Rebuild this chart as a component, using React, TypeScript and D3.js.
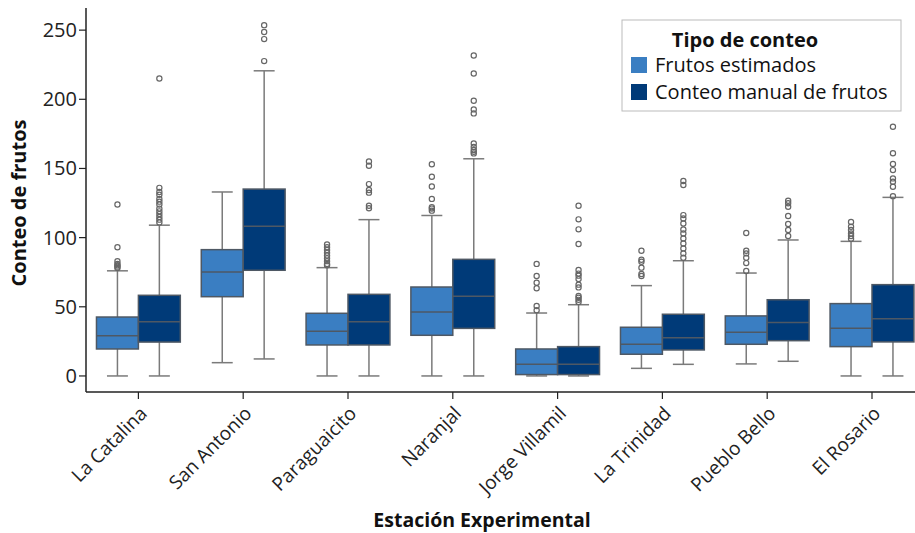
import React from "react";
import * as d3 from "d3";

const stations = ["La Catalina", "San Antonio", "Paraguaicito", "Naranjal", "Jorge Villamil", "La Trinidad", "Pueblo Bello", "El Rosario"];
const seriesNames = ["Frutos estimados", "Conteo manual de frutos"];
const seriesColors = ["#3a7ec2", "#003a78"];
const yTicks = [0, 50, 100, 150, 200, 250];

// Frutos estimados
const estQ1 = [19.5, 57.3, 22.4, 29.4, 1, 15.7, 22.9, 21.2];
const estMedian = [29, 75.1, 32.3, 46.2, 8.4, 22.9, 31.6, 34.4];
const estQ3 = [42.6, 91.3, 45.3, 64.3, 19.5, 35.2, 43.4, 52.3];
const estLow = [0, 9.6, 0, 0, 0, 5.5, 8.7, 0];
const estHigh = [76, 133, 78.3, 116, 45.5, 65.3, 74.4, 97.3];
const estOutliers = [
  [78, 79, 80, 81, 83, 93, 124],
  [],
  [80, 81, 83, 85, 87, 89, 91, 93, 95],
  [119.5, 121, 122, 128, 137, 144, 153],
  [47.5, 50.6, 63.4, 67.4, 72.3, 81],
  [72.3, 73.7, 78.3, 82.6, 84, 90.5],
  [75.9, 81.6, 85.5, 88.6, 90.5, 103.3],
  [99.2, 101.2, 103, 105.5, 107.9, 111.3],
];

// Conteo manual de frutos
const manQ1 = [24.5, 76.4, 22.4, 34.4, 1, 18.8, 25.5, 24.6];
const manMedian = [39.2, 108.2, 39.2, 57.6, 8.4, 27.7, 38.7, 41.4];
const manQ3 = [58.3, 135.1, 59, 84.3, 21.2, 44.6, 55.1, 66];
const manLow = [0, 12.3, 0, 0, 0, 8.4, 10.6, 0];
const manHigh = [109, 220.6, 113, 157, 51.5, 83.3, 98.3, 129.1];
const manOutliers = [
  [111, 113, 115, 117, 119, 121, 124, 126, 128, 131, 133, 136, 215],
  [227.6, 243.5, 248.6, 253.6],
  [121.2, 123, 132.5, 134.4, 138.7, 152, 155],
  [160.9, 162, 163.3, 165.6, 168, 189.8, 192.7, 198.9, 218.7, 231.7],
  [53.5, 55, 56.5, 57.8, 64, 66, 70, 72.5, 74, 76.6, 95.4, 106, 113.2, 123],
  [85.5, 88.6, 92.2, 95.8, 99.4, 103, 105.9, 110.2, 113.8, 116.3, 138, 140.9],
  [101.2, 105.5, 109.8, 115.6, 122.3, 124.8, 126.7],
  [130, 136.8, 140.4, 142.8, 148.8, 153.2, 161, 180.1],
];

const W = 915;
const H = 533;
const FONT = "'Open Sans', Lato, sans-serif";

export default function App() {
  const left = 86;
  const bottom = 392;
  const top = 8;
  const x = d3.scaleBand<string>().domain(stations).range([left, left + 8 * 104.8]).paddingInner(0).paddingOuter(0);
  const inner = d3.scaleBand<number>().domain([0, 1]).range([0, x.bandwidth() * 0.8]);
  const y = d3.scaleLinear().domain([-11.6, 266]).range([bottom, top]);

  const series = [
    { q1: estQ1, med: estMedian, q3: estQ3, lo: estLow, hi: estHigh, out: estOutliers },
    { q1: manQ1, med: manMedian, q3: manQ3, lo: manLow, hi: manHigh, out: manOutliers },
  ];

  const boxStroke = "#4e5864";
  const whisk = "#7a7a7a";

  return (
    <svg width={W} height={H} style={{ position: "absolute", left: 0, top: 0, fontFamily: FONT }}>
      <rect x={0} y={0} width={W} height={H} fill="#fff" />
      {stations.map((s, i) => {
        const g0 = (x(s) as number) + x.bandwidth() * 0.1;
        return (
          <g key={s}>
            {series.map((sr, k) => {
              const bx = g0 + (inner(k) as number);
              const bw = inner.bandwidth();
              const cx = bx + bw / 2;
              const capHalf = bw * 0.25;
              return (
                <g key={k}>
                  <line x1={cx} x2={cx} y1={y(sr.q1[i])} y2={y(sr.lo[i])} stroke={whisk} strokeWidth={1.5} />
                  <line x1={cx} x2={cx} y1={y(sr.q3[i])} y2={y(sr.hi[i])} stroke={whisk} strokeWidth={1.5} />
                  <line x1={cx - capHalf} x2={cx + capHalf} y1={y(sr.lo[i])} y2={y(sr.lo[i])} stroke={whisk} strokeWidth={1.5} />
                  <line x1={cx - capHalf} x2={cx + capHalf} y1={y(sr.hi[i])} y2={y(sr.hi[i])} stroke={whisk} strokeWidth={1.5} />
                  <rect x={bx} y={y(sr.q3[i])} width={bw} height={y(sr.q1[i]) - y(sr.q3[i])} fill={seriesColors[k]} stroke={boxStroke} strokeWidth={1.5} />
                  <line x1={bx} x2={bx + bw} y1={y(sr.med[i])} y2={y(sr.med[i])} stroke={boxStroke} strokeWidth={1.5} />
                  {sr.out[i].map((v, j) => (
                    <circle key={j} cx={cx} cy={y(v)} r={2.6} fill="none" stroke={"#666"} strokeWidth={1.2} />
                  ))}
                </g>
              );
            })}
          </g>
        );
      })}
      {/* axes */}
      <line x1={left} x2={left} y1={top} y2={bottom} stroke="#222" strokeWidth={1.5} />
      <line x1={left} x2={W} y1={bottom} y2={bottom} stroke="#222" strokeWidth={1.5} />
      {yTicks.map((t) => (
        <g key={t}>
          <line x1={left - 7} x2={left} y1={y(t)} y2={y(t)} stroke="#222" strokeWidth={1.2} />
          <text x={left - 9} y={y(t)} dy="0.35em" textAnchor="end" fontSize={20} fill="#222">{t}</text>
        </g>
      ))}
      {stations.map((s) => {
        const cx = (x(s) as number) + x.bandwidth() / 2;
        return (
          <g key={s}>
            <line x1={cx} x2={cx} y1={bottom} y2={bottom + 7} stroke="#222" strokeWidth={1.2} />
            <text transform={`translate(${cx + 5},${bottom + 18}) rotate(-45)`} textAnchor="end" dy="0.35em" fontSize={19} fill="#222">{s}</text>
          </g>
        );
      })}
      <text transform={`translate(26,${(top + bottom) / 2 + 3}) rotate(-90)`} textAnchor="middle" fontSize={20} fontWeight="bold" fill="#111">Conteo de frutos</text>
      <text x={482} y={527} textAnchor="middle" fontSize={19.5} fontWeight="bold" fill="#111">Estación Experimental</text>
      {/* legend */}
      <rect x={622} y={20} width={279} height={91} fill="#fff" stroke="#bbb" strokeWidth={1} />
      <text x={745} y={47} textAnchor="middle" fontSize={20} fontWeight="bold" fill="#111">Tipo de conteo</text>
      {seriesNames.map((n, k) => (
        <g key={n}>
          <rect x={631} y={57 + k * 27} width={16} height={16} fill={seriesColors[k]} />
          <text x={655} y={65 + k * 27} dy="0.35em" fontSize={20} fill="#111">{n}</text>
        </g>
      ))}
    </svg>
  );
}
